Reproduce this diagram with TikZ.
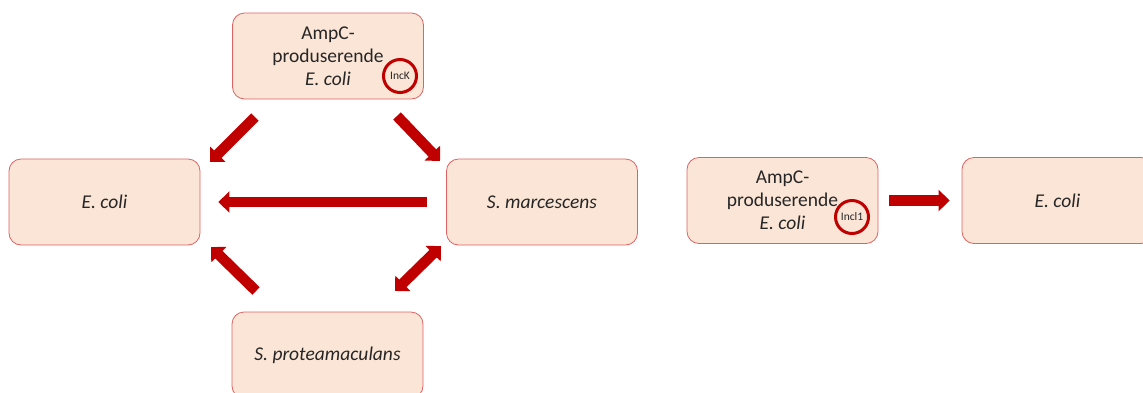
\documentclass[tikz,border=0pt]{standalone}
\usepackage{fontspec}
\setmainfont{Carlito}
\usetikzlibrary{arrows.meta}
\definecolor{boxfill}{RGB}{251,229,214}
\definecolor{boxline}{RGB}{222,98,98}
\definecolor{arrowred}{RGB}{192,0,0}
\definecolor{textgray}{RGB}{38,38,38}
\def\Ec{{\itshape E. coli}}
\def\Amp{AmpC-\\produserende\\\Ec}

\begin{document}
\begin{tikzpicture}[x=1pt,y=-1pt,
			strain/.style={draw=boxline,fill=boxfill,line width=0.8pt,rounded corners=12pt,
				minimum width=191pt,minimum height=86pt,align=center,inner sep=0pt,
				text=textgray,font=\fontsize{19.5}{23}\selectfont},
			plasmid/.style={circle,draw=arrowred,line width=3pt,minimum size=33pt,inner sep=0pt,
				text=textgray,font=\fontsize{11.5}{13}\selectfont},
			transfer/.style={draw=arrowred,line width=10.5pt,-{Triangle[width=21pt,length=11pt]}},
			both/.style={draw=arrowred,line width=10.5pt,{Triangle[width=21pt,length=11pt]}-{Triangle[width=21pt,length=11pt]}}]
			\useasboundingbox (0,0) rectangle (1143,392);
			% left scheme
			\node [strain]		(AmpK)		at (328,56)		{\Amp};
			\node [plasmid]		(IncK)		at (400,76)		{IncK};
			\node [strain]		(EcoliL)	at (104.5,202)	{\Ec};
			\node [strain]		(Smarc)		at (542,202)	{\itshape S. marcescens};
			\node [strain]		(Sprot)		at (327.5,355)	{\itshape S. proteamaculans};
			\coordinate (AmpKsw) at (255,117);	\coordinate (EcoliLne) at (210,162);
			\coordinate (AmpKse) at (397,116);	\coordinate (Smarcnw) at (440,161);
			\coordinate (Sprotnw) at (256,291);	\coordinate (EcoliLse) at (211,247);
			\coordinate (Smarcsw) at (441,246);	\coordinate (Sprotne) at (395,291);
			\draw [transfer] (AmpKsw) -- (EcoliLne);
			\draw [transfer] (AmpKse) -- (Smarcnw);
			\draw [transfer,shorten <=19pt,shorten >=18pt] (Smarc.west) -- (EcoliL.east);
			\draw [transfer] (Sprotnw) -- (EcoliLse);
			\draw [both] (Smarcsw) -- (Sprotne);
			% right scheme
			\node [strain]		(AmpI)		at (782.5,200.5)	{\Amp};
			\node [plasmid]		(IncI)		at (852,217)		{Incl1};
			\node [strain]		(EcoliR)	at (1057.5,200.5)	{\Ec};
			\draw [transfer,shorten <=11pt,shorten >=12pt] (AmpI.east) -- (EcoliR.west);
		\end{tikzpicture}
\end{document}
